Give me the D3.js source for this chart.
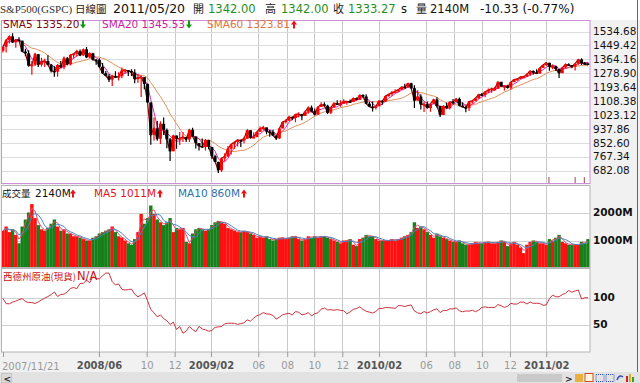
<!DOCTYPE html>
<html>
<head>
<meta charset="utf-8">
<title>S&P500 日線圖</title>
<script src="https://d3js.org/d3.v7.min.js"></script>
<style>
  body { margin: 0; background: #f1f1f1; }
  svg { display: block; }
</style>
</head>
<body>
<svg id="chart" width="640" height="383"></svg>
<script>
// weekly S&P500 (Friday) close / high / low
const weekClose = [
  1440.7, 1481.1, 1504.7, 1467.9, 1484.5, 1478.5,
  1411.6, 1401.0, 1325.2, 1330.6, 1395.4, 1331.3, 1349.0, 1353.1, 1330.6, 1293.4, 1288.1, 1329.5, 1315.2,
  1370.4, 1332.8, 1390.3, 1397.8, 1413.9, 1388.3, 1425.4, 1375.9, 1400.4, 1360.7, 1360.0, 1317.9, 1278.4,
  1262.9, 1239.5, 1260.7, 1257.8, 1260.3, 1296.3, 1298.2, 1292.2, 1282.8, 1242.3, 1251.7, 1255.1, 1213.3,
  1099.2, 899.2, 940.6, 876.8, 968.8, 931.0, 873.3, 800.0, 896.2, 876.1, 879.7, 887.9, 872.8,
  931.8, 890.4, 850.1, 832.0, 825.9, 868.6, 826.8, 770.1, 735.1, 683.4, 756.6, 768.5, 815.9, 842.5, 856.6,
  869.6, 866.2, 877.5, 929.2, 882.9, 887.0, 919.1, 940.1, 946.2, 921.2, 918.9, 896.4, 879.1, 940.4, 979.3,
  987.5, 1010.5, 1004.1, 1026.1, 1028.9, 1016.4, 1042.7, 1068.3, 1044.4, 1025.2, 1071.5, 1087.7, 1079.6,
  1036.2, 1069.3, 1093.5, 1091.4, 1091.5, 1106.0, 1106.4, 1102.5, 1126.5, 1115.1,
  1145.0, 1136.0, 1091.8, 1073.9, 1066.2, 1075.5, 1109.2, 1104.5, 1138.7, 1150.0, 1159.9, 1166.6, 1178.1,
  1194.4, 1192.1, 1217.3, 1186.7, 1110.9, 1135.7, 1087.7, 1089.4, 1064.9, 1091.6, 1117.5, 1076.8, 1022.6,
  1078.0, 1064.9, 1102.7, 1101.6, 1121.6, 1079.3, 1071.7, 1064.6, 1104.5, 1109.6, 1125.6, 1148.7, 1146.2,
  1165.2, 1176.2, 1183.1, 1183.3, 1225.9, 1199.2, 1199.7, 1189.4, 1224.7, 1240.4, 1243.9, 1256.8, 1257.6,
  1271.5, 1293.2, 1283.4, 1276.3, 1310.9, 1329.2, 1343.0, 1319.9, 1321.2, 1304.3, 1279.2, 1313.8, 1332.4,
  1328.2, 1319.7, 1337.4, 1363.6, 1340.2, 1337.8, 1333.3
];
const weekHigh = [
  1440.9, 1488.9, 1510.6, 1523.6, 1484.5, 1498.9,
  1471.8, 1429.6, 1420.0, 1354.0, 1402.9, 1395.0, 1373.8, 1367.9, 1388.3, 1335.5, 1321.5, 1331.7, 1353.4,
  1380.9, 1378.0, 1395.9, 1399.0, 1422.7, 1423.6, 1426.4, 1440.2, 1406.3, 1404.1, 1365.5, 1370.6, 1341.5,
  1291.8, 1274.2, 1270.0, 1291.3, 1285.0, 1313.2, 1303.0, 1298.0, 1302.7, 1303.0, 1274.4, 1265.1, 1255.1,
  1215.8, 1099.2, 1006.9, 985.4, 984.4, 1007.5, 939.0, 881.3, 896.2, 896.0, 918.6, 918.9, 887.9,
  934.7, 943.9, 890.4, 850.1, 877.9, 875.0, 870.3, 826.8, 778.7, 735.1, 763.0, 788.6, 832.9, 845.6, 856.9,
  875.6, 871.8, 888.7, 930.2, 924.0, 916.4, 920.0, 951.7, 956.2, 946.3, 930.2, 931.9, 898.7, 944.0, 979.8,
  996.7, 1018.0, 1012.9, 1027.6, 1039.5, 1028.9, 1048.2, 1074.8, 1080.2, 1063.0, 1076.0, 1101.4, 1101.4,
  1085.0, 1072.0, 1101.4, 1113.7, 1112.4, 1119.1, 1106.4, 1117.7, 1127.0, 1130.4,
  1145.4, 1150.5, 1150.5, 1103.7, 1104.7, 1080.0, 1112.4, 1112.4, 1139.0, 1153.4, 1169.2, 1180.7, 1181.4,
  1194.7, 1213.9, 1217.3, 1219.8, 1205.1, 1173.6, 1150.0, 1104.5, 1105.7, 1091.6, 1119.1, 1131.2, 1076.8,
  1078.0, 1099.1, 1103.7, 1120.9, 1127.3, 1129.2, 1100.1, 1081.3, 1105.1, 1110.9, 1131.5, 1148.9, 1158.1,
  1167.7, 1184.4, 1189.4, 1196.1, 1227.1, 1227.1, 1204.4, 1207.4, 1225.6, 1240.4, 1246.7, 1259.0, 1262.6,
  1278.2, 1293.2, 1296.1, 1302.7, 1311.0, 1330.0, 1344.1, 1343.0, 1332.3, 1326.2, 1304.3, 1316.6, 1337.9,
  1339.5, 1328.2, 1339.2, 1364.6, 1370.6, 1348.0, 1345.0
];
const weekLow = [
  1406.0, 1406.1, 1460.7, 1467.8, 1435.6, 1474.6,
  1411.2, 1382.2, 1320.0, 1270.1, 1322.3, 1317.5, 1320.0, 1316.7, 1328.0, 1283.0, 1257.0, 1256.9, 1312.6,
  1303.0, 1328.6, 1326.7, 1369.6, 1383.0, 1384.2, 1385.1, 1373.0, 1371.0, 1358.0, 1330.8, 1314.5, 1278.0,
  1260.0, 1225.4, 1200.4, 1251.4, 1234.4, 1247.4, 1277.0, 1261.0, 1262.0, 1217.2, 1221.0, 1133.5, 1180.0,
  1099.1, 839.8, 865.8, 865.8, 845.3, 899.7, 818.7, 741.0, 801.0, 815.7, 837.9, 857.3, 857.3,
  857.3, 888.8, 817.0, 804.3, 821.7, 805.0, 812.0, 754.3, 734.5, 666.8, 672.9, 738.2, 764.6, 779.8, 814.5,
  828.9, 826.8, 847.1, 875.6, 878.9, 883.6, 886.0, 919.0, 927.4, 903.8, 888.9, 896.0, 869.3, 875.3, 940.4,
  970.0, 987.5, 990.2, 978.5, 1008.9, 991.0, 1016.4, 1030.6, 1039.5, 1019.0, 1025.2, 1071.5, 1074.7,
  1029.4, 1029.4, 1069.3, 1085.0, 1073.7, 1091.5, 1085.9, 1096.3, 1102.5, 1114.8,
  1115.1, 1131.4, 1090.2, 1071.6, 1044.5, 1056.5, 1075.5, 1086.0, 1104.5, 1134.0, 1141.0, 1159.9, 1161.4,
  1181.6, 1186.8, 1188.6, 1181.6, 1065.8, 1110.9, 1055.9, 1040.8, 1064.9, 1042.2, 1091.6, 1067.9, 1010.9,
  1022.6, 1063.0, 1056.9, 1088.0, 1101.6, 1076.6, 1069.5, 1039.7, 1047.7, 1091.2, 1109.6, 1122.8, 1137.0,
  1131.9, 1155.7, 1159.7, 1171.2, 1183.3, 1194.1, 1173.0, 1185.5, 1177.0, 1222.8, 1232.9, 1242.5, 1254.0,
  1257.6, 1262.2, 1271.3, 1275.1, 1276.3, 1310.9, 1322.3, 1294.3, 1302.6, 1291.9, 1249.1, 1279.2, 1307.8,
  1325.0, 1309.7, 1294.7, 1331.1, 1329.2, 1330.0, 1329.6
];
// 成交量 (M), weekly
const volume = [
  1350, 1500, 1300, 1400, 1200, 900,
  1500, 1750, 2000, 2300, 1800, 1550, 1400, 1350, 1450, 1600, 1750, 1500, 1350, 1400, 1250, 1250, 1150,
  1150, 1100, 1050, 1000, 1000, 1100, 1150, 1250, 1300, 1350, 1400, 1500, 1300, 1150, 1100, 1000, 900, 850,
  1050, 1300, 1950, 1600, 1800, 2250, 1950, 1750, 1650, 1550, 1650, 1800, 1300, 1450, 1400, 1450, 950,
  900, 1250, 1400, 1450, 1400, 1350, 1400, 1550, 1650, 1700, 1650, 1600, 1450, 1400, 1350, 1300, 1300,
  1350, 1300, 1250, 1200, 1100, 1150, 1100, 1150, 1050, 1000, 1050, 1100, 1100, 1050, 1100, 1150, 1150, 1050,
  1000, 1050, 1150, 1100, 1150, 1100, 1150, 1150, 1100, 1050, 1000, 950, 900, 1000, 1000, 1050, 850, 800,
  1050, 1100, 1200, 1150, 1150, 1050, 1000, 1000, 1000, 1000, 1050, 1000, 1050, 1100, 1150, 1200, 1300,
  1650, 1450, 1500, 1400, 1300, 1200, 1100, 1250, 1150, 1100, 1050, 1000, 950, 950, 1000, 900, 850,
  850, 900, 950, 900, 900, 950, 950, 900, 900, 950, 1000, 950, 800, 900, 950, 850, 750, 550,
  850, 950, 1000, 950, 900, 900, 850, 1050, 1000, 1100, 1200, 950, 900, 850, 850, 850, 850, 950, 900, 1050
];
// 西德州原油(現貨), weekly
const oilSpot = [
  98.2, 88.7, 88.3, 91.3, 93.3, 96.0,
  97.9, 92.7, 90.6, 90.7, 88.9, 91.8, 95.5, 98.8, 101.8, 105.2, 110.2, 101.8, 105.6, 106.2, 110.1, 116.7,
  118.5, 116.3, 126.0, 126.3, 132.2, 127.4, 138.5, 134.9, 134.6, 140.2, 145.3, 145.1, 129.3, 123.3, 125.1,
  115.2, 113.8, 114.6, 115.5, 106.2, 101.2, 104.6, 108.5, 93.9, 77.7, 71.8, 64.2, 67.8, 61.0, 57.0, 49.9,
  54.4, 40.8, 46.3, 33.9, 37.7,
  46.3, 40.8, 36.5, 46.5, 41.7, 40.2, 37.5, 38.9, 44.8, 45.5, 46.3, 51.1, 52.4, 52.5, 52.2, 50.3, 51.6,
  53.2, 58.6, 56.3, 61.7, 66.3, 68.4, 72.0, 69.6, 69.2, 66.7, 59.9, 63.6, 68.0, 69.5, 70.9, 67.5, 73.9,
  72.7, 68.0, 69.3, 72.0, 66.0, 69.9, 71.8, 78.5, 80.5, 77.0, 77.4, 76.4, 77.5, 76.1, 75.5, 69.9, 73.4,
  78.1, 79.4,
  82.8, 78.0, 74.5, 72.9, 71.2, 74.1, 79.8, 79.7, 81.5, 81.2, 80.7, 80.0, 84.9, 84.9, 83.2, 85.1, 86.2,
  75.1, 71.6, 70.0, 74.0, 71.5, 73.8, 77.2, 78.9, 72.1, 76.1, 76.0, 79.0, 78.9, 80.7, 75.4, 73.5, 75.2,
  74.6, 76.5, 73.7, 76.5, 81.6, 82.7, 81.3, 81.7, 81.4, 86.9, 84.9, 81.5, 84.0, 89.2, 87.8, 88.0, 91.5, 91.4,
  88.0, 91.5, 89.1, 89.3, 89.0, 85.6, 86.2, 97.9, 104.4, 101.2, 101.4, 105.4, 107.9, 113.0, 109.7, 112.3,
  113.9, 97.2, 99.6, 99.5
];

const priceTicks = [1534.68, 1449.42, 1364.16, 1278.90, 1193.64, 1108.38, 1023.12, 937.86, 852.60, 767.34, 682.08];
const volTicks = [1000, 2000];
const oilTicks = [50, 100];
const xTickDates = ['2008-06-19', '2008-10-01', '2008-12-01', '2009-02-18', '2009-06-01', '2009-08-03',
  '2009-10-01', '2009-12-01', '2010-02-19', '2010-06-01', '2010-08-02', '2010-10-01', '2010-12-01', '2011-02-18'];
const xTickLabels = ['2008/06', '10', '12', '2009/02', '06', '08', '10', '12', '2010/02', '06', '08', '10', '12', '2011/02'];
const markerDates = ['2011-02-24', '2011-04-22', '2011-05-12'];

const svg = d3.select('#chart');
const parse = d3.timeParse('%Y-%m-%d');
const weeks = d3.timeFriday.range(new Date(2007, 10, 23), new Date(2011, 4, 21));
const n = Math.min(weeks.length, weekClose.length);

const L = 1.5, R = 590;
const P = { top: 20.5, bottom: 183.5 };
const V = { top: 185.5, bottom: 267.5 };
const O = { top: 268.5, bottom: 352 };
const FONT = 'DejaVu Sans, Verdana, sans-serif';
const CJK = 'Noto Sans CJK TC, sans-serif';

const x = d3.scaleTime().domain([new Date(2007, 10, 21), new Date(2011, 4, 20)]).range([2, 588]);
const py = d3.scaleLinear().domain([682.08, 1534.68]).range([170.5, 31.5]);
const vy = d3.scaleLinear().domain([0, 2000]).range([268.5, 212.5]);
const oy = d3.scaleLinear().domain([50, 100]).range([324.5, 297.5]);

const rolling = (arr, k) => arr.map((d, i) => d3.mean(arr.slice(Math.max(0, i - k + 1), i + 1)));

const rows = d3.range(n).map(i => {
  const open = i > 0 ? weekClose[i - 1] : 1416.2;
  const c = weekClose[i];
  return {
    date: weeks[i], open, close: c,
    high: Math.max(weekHigh[i], open, c), low: Math.min(weekLow[i], open, c),
    up: c >= open, vol: volume[i], oil: oilSpot[i]
  };
});
const sma5 = weekClose.slice(0, n);
const sma20 = rolling(sma5, 4);
const sma60 = rolling(sma5, 12);
const vma5 = rolling(volume.slice(0, n), 2);
const vma10 = rolling(volume.slice(0, n), 4);

// backgrounds
svg.append('rect').attr('width', 640).attr('height', 383).attr('fill', '#f1f1f1');
svg.append('rect').attr('width', 640).attr('height', 20).attr('fill', '#ffffff');
const defs = svg.append('defs');
[['clipP', P], ['clipV', V], ['clipO', O]].forEach(([id, p]) => {
  defs.append('clipPath').attr('id', id).append('rect')
    .attr('x', L).attr('y', p.top).attr('width', R - L).attr('height', p.bottom - p.top);
});
[P, V, O].forEach(p => {
  svg.append('rect').attr('x', L).attr('y', p.top).attr('width', R - L).attr('height', p.bottom - p.top)
    .attr('fill', '#ffffff');
});

// grid
const tickDates = xTickDates.map(parse);
const grid = svg.append('g').attr('stroke-width', 1);
[P, V, O].forEach(p => {
  grid.selectAll(null).data(tickDates).join('line')
    .attr('x1', d => Math.round(x(d)) + 0.5).attr('x2', d => Math.round(x(d)) + 0.5)
    .attr('y1', p.top).attr('y2', p.bottom).attr('stroke', '#c8c8c8');
});
grid.selectAll(null).data(priceTicks).join('line')
  .attr('x1', L).attr('x2', R).attr('y1', d => Math.round(py(d)) + 0.5).attr('y2', d => Math.round(py(d)) + 0.5)
  .attr('stroke', '#dcdcdc');
grid.selectAll(null).data(volTicks).join('line')
  .attr('x1', L).attr('x2', R).attr('y1', d => Math.round(vy(d)) + 0.5).attr('y2', d => Math.round(vy(d)) + 0.5)
  .attr('stroke', '#d0d0d0');
grid.selectAll(null).data(oilTicks).join('line')
  .attr('x1', L).attr('x2', R).attr('y1', d => Math.round(oy(d)) + 0.5).attr('y2', d => Math.round(oy(d)) + 0.5)
  .attr('stroke', '#d0d0d0');

// price panel
const pg = svg.append('g').attr('clip-path', 'url(#clipP)');
const line = (ys, yScale) => d3.line().x((d, i) => x(rows[i].date)).y((d, i) => yScale(ys[i]))(ys);
pg.append('path').attr('d', line(sma60, py)).attr('fill', 'none').attr('stroke', '#e0905a').attr('stroke-width', 1);
pg.append('path').attr('d', line(sma20, py)).attr('fill', 'none').attr('stroke', '#d42aa8').attr('stroke-width', 1);
pg.append('path').attr('d', line(sma5, py)).attr('fill', 'none').attr('stroke', '#8b0000').attr('stroke-width', 1.2);
const candles = pg.selectAll('.candle').data(rows).join('g').attr('class', 'candle');
candles.append('line')
  .attr('x1', d => x(d.date)).attr('x2', d => x(d.date))
  .attr('y1', d => py(d.high)).attr('y2', d => py(d.low))
  .attr('stroke', d => d.up ? '#ff0000' : '#000000').attr('stroke-width', 1.2);
candles.append('rect')
  .attr('x', d => x(d.date) - 1.5).attr('width', 3)
  .attr('y', d => py(Math.max(d.open, d.close)))
  .attr('height', d => Math.max(1.5, Math.abs(py(d.open) - py(d.close))))
  .attr('fill', d => d.up ? '#ff0000' : '#000000');
pg.selectAll('.marker').data(markerDates.map(parse)).join('line').attr('class', 'marker')
  .attr('x1', d => x(d)).attr('x2', d => x(d)).attr('y1', 177).attr('y2', P.bottom)
  .attr('stroke', '#a04848');

// volume panel
const vg = svg.append('g').attr('clip-path', 'url(#clipV)');
vg.selectAll('.vbar').data(rows).join('rect').attr('class', 'vbar')
  .attr('x', d => x(d.date) - 1.7).attr('width', 3.4)
  .attr('y', d => vy(d.vol)).attr('height', d => vy(0) - vy(d.vol))
  .attr('fill', d => d.up ? '#ff1010' : '#17801a');
vg.append('path').attr('d', line(vma5, vy)).attr('fill', 'none').attr('stroke', '#e05070').attr('stroke-width', 1);
vg.append('path').attr('d', line(vma10, vy)).attr('fill', 'none').attr('stroke', '#4a86c0').attr('stroke-width', 1);

// oil panel
const og = svg.append('g').attr('clip-path', 'url(#clipO)');
og.append('path').attr('d', line(rows.map(d => d.oil), oy)).attr('fill', 'none')
  .attr('stroke', '#c8343e').attr('stroke-width', 1);

// panel borders
svg.append('rect').attr('x', L).attr('y', P.top).attr('width', R - L).attr('height', P.bottom - P.top)
  .attr('fill', 'none').attr('stroke', '#cc8fd8');
[V, O].forEach(p => {
  svg.append('rect').attr('x', L).attr('y', p.top).attr('width', R - L).attr('height', p.bottom - p.top)
    .attr('fill', 'none').attr('stroke', '#b4b4b4');
});

// right axes
const styleAxis = (sel, size, weight) => {
  sel.select('.domain').remove();
  sel.selectAll('text').attr('font-family', FONT).attr('font-size', size)
    .attr('font-weight', weight).attr('fill', '#111');
};
svg.append('g').attr('transform', `translate(${R},0)`)
  .call(d3.axisRight(py).tickValues(priceTicks).tickFormat(d3.format('.2f')).tickSize(0).tickPadding(3))
  .call(sel => styleAxis(sel, 10.5, 'normal'));
svg.append('g').attr('transform', `translate(${R},0)`)
  .call(d3.axisRight(vy).tickValues(volTicks).tickFormat(d => d + 'M').tickSize(0).tickPadding(3))
  .call(sel => styleAxis(sel, 10.5, 'bold'));
svg.append('g').attr('transform', `translate(${R},0)`)
  .call(d3.axisRight(oy).tickValues(oilTicks).tickFormat(d3.format('d')).tickSize(0).tickPadding(3))
  .call(sel => styleAxis(sel, 10.5, 'bold'));

// x axis
const xg = svg.append('g').attr('transform', `translate(0,${O.bottom})`)
  .call(d3.axisBottom(x).tickValues(tickDates).tickFormat((d, i) => xTickLabels[i]).tickSize(5).tickPadding(5));
xg.select('.domain').remove();
xg.selectAll('line').attr('stroke', '#9a9a9a');
xg.selectAll('text').attr('font-family', FONT).attr('font-size', 10)
  .attr('font-weight', (d, i) => xTickLabels[i].includes('/') ? 'bold' : 'normal')
  .attr('fill', (d, i) => xTickLabels[i].includes('/') ? '#555' : '#999');
svg.append('line').attr('x1', 3.5).attr('x2', 3.5).attr('y1', O.bottom).attr('y2', O.bottom + 5).attr('stroke', '#9a9a9a');
svg.append('text').attr('x', 2).attr('y', 370).attr('font-family', FONT).attr('font-size', 10)
  .attr('fill', '#999').text('2007/11/21');

// header
const txt = (t, xx, yy, color, size, family, weight) => svg.append('text')
  .attr('x', xx).attr('y', yy).attr('fill', color).attr('font-size', size)
  .attr('font-family', family).attr('font-weight', weight || 'normal').text(t);
txt('S&P500(GSPC)', 0, 13, '#333', 11, 'Liberation Serif, serif');
txt('日線圖', 75, 13, '#222', 10.5, CJK);
txt('2011/05/20', 113, 13, '#111', 12.5, FONT);
txt('開', 193, 13, '#222', 11, CJK);
txt('1342.00', 208, 13, '#1f8f1f', 11.5, FONT);
txt('高', 265, 13, '#222', 11, CJK);
txt('1342.00', 281, 13, '#1f8f1f', 11.5, FONT);
txt('收', 333, 13, '#222', 11, CJK);
txt('1333.27', 348, 13, '#1f8f1f', 11.5, FONT);
txt('s', 401, 13, '#111', 11.5, FONT);
txt('量', 416, 13, '#222', 11, CJK);
txt('2140M', 430, 13, '#111', 11.5, FONT);
txt('-10.33 (-0.77%)', 480, 13, '#111', 12, FONT);

const arrow = (ax, ay, up, color) => {
  const d = up
    ? `M${ax + 3},${ay} L${ax + 6},${ay + 4} L${ax + 4},${ay + 4} L${ax + 4},${ay + 8} L${ax + 2},${ay + 8} L${ax + 2},${ay + 4} L${ax},${ay + 4} Z`
    : `M${ax + 3},${ay + 8} L${ax + 6},${ay + 4} L${ax + 4},${ay + 4} L${ax + 4},${ay} L${ax + 2},${ay} L${ax + 2},${ay + 4} L${ax},${ay + 4} Z`;
  svg.append('path').attr('d', d).attr('fill', color);
};

// price legend
txt('SMA5 1335.20', 3, 28, '#7a0a0a', 10.5, FONT);
arrow(80, 20.5, false, '#119a11');
txt('SMA20 1345.53', 102, 28, '#cc1d9c', 10.5, FONT);
arrow(186, 20.5, false, '#119a11');
txt('SMA60 1323.81', 207, 28, '#e2733a', 10.5, FONT);
arrow(291, 20.5, true, '#ee1111');

// volume legend
txt('成交量', 2, 197, '#111', 9.5, CJK);
txt('2140M', 35, 197, '#111', 10.5, FONT);
arrow(70, 189.5, true, '#ee1111');
txt('MA5 1011M', 94, 197, '#e3141e', 10.5, FONT);
arrow(157, 189.5, true, '#ee1111');
txt('MA10 860M', 178, 197, '#2a72aa', 10.5, FONT);
arrow(241, 189.5, true, '#ee1111');

// oil legend
txt('西德州原油(現貨)', 3, 280, '#cc1111', 9.5, CJK);
txt('N/A', 77, 280, '#cc1111', 11.5, FONT);

// bottom scroll bar
svg.append('rect').attr('x', 0).attr('y', 372).attr('width', 640).attr('height', 11).attr('fill', '#e2e2e2');
svg.append('rect').attr('x', 1.5).attr('y', 373.5).attr('width', 10).attr('height', 9).attr('fill', '#dadada').attr('stroke', '#c4c4c4');
txt('<', 3.5, 381.5, '#222', 9, FONT, 'bold');
svg.append('rect').attr('x', 517).attr('y', 374).attr('width', 45).attr('height', 8).attr('fill', '#c9c9c9');
txt('>', 565, 381.5, '#222', 9, FONT, 'bold');
svg.append('rect').attr('x', 575).attr('y', 374).attr('width', 8).attr('height', 8).attr('fill', '#e8b040');
svg.append('rect').attr('x', 585).attr('y', 373.5).attr('width', 8).attr('height', 8).attr('fill', '#fff6e0').attr('stroke', '#d05020');
svg.append('rect').attr('x', 596).attr('y', 374.5).attr('width', 8).attr('height', 7).attr('fill', 'none').attr('stroke', '#3050c0').attr('stroke-dasharray', '1,1');
svg.append('rect').attr('x', 606).attr('y', 374.5).attr('width', 8).attr('height', 7).attr('fill', 'none').attr('stroke', '#3050c0').attr('stroke-dasharray', '1,1');
svg.append('path').attr('d', 'M617,380 q2,-6 6,-3').attr('fill', 'none').attr('stroke', '#3050c0').attr('stroke-width', 1.5);
svg.append('rect').attr('x', 626).attr('y', 376).attr('width', 2).attr('height', 6).attr('fill', '#d02020');
svg.append('rect').attr('x', 629).attr('y', 374).attr('width', 2).attr('height', 8).attr('fill', '#e0b020');
svg.append('rect').attr('x', 632).attr('y', 377).attr('width', 2).attr('height', 5).attr('fill', '#30a030');

// window edge
svg.append('line').attr('x1', 637.5).attr('x2', 637.5).attr('y1', 0).attr('y2', 372).attr('stroke', '#666');
</script>
</body>
</html>
